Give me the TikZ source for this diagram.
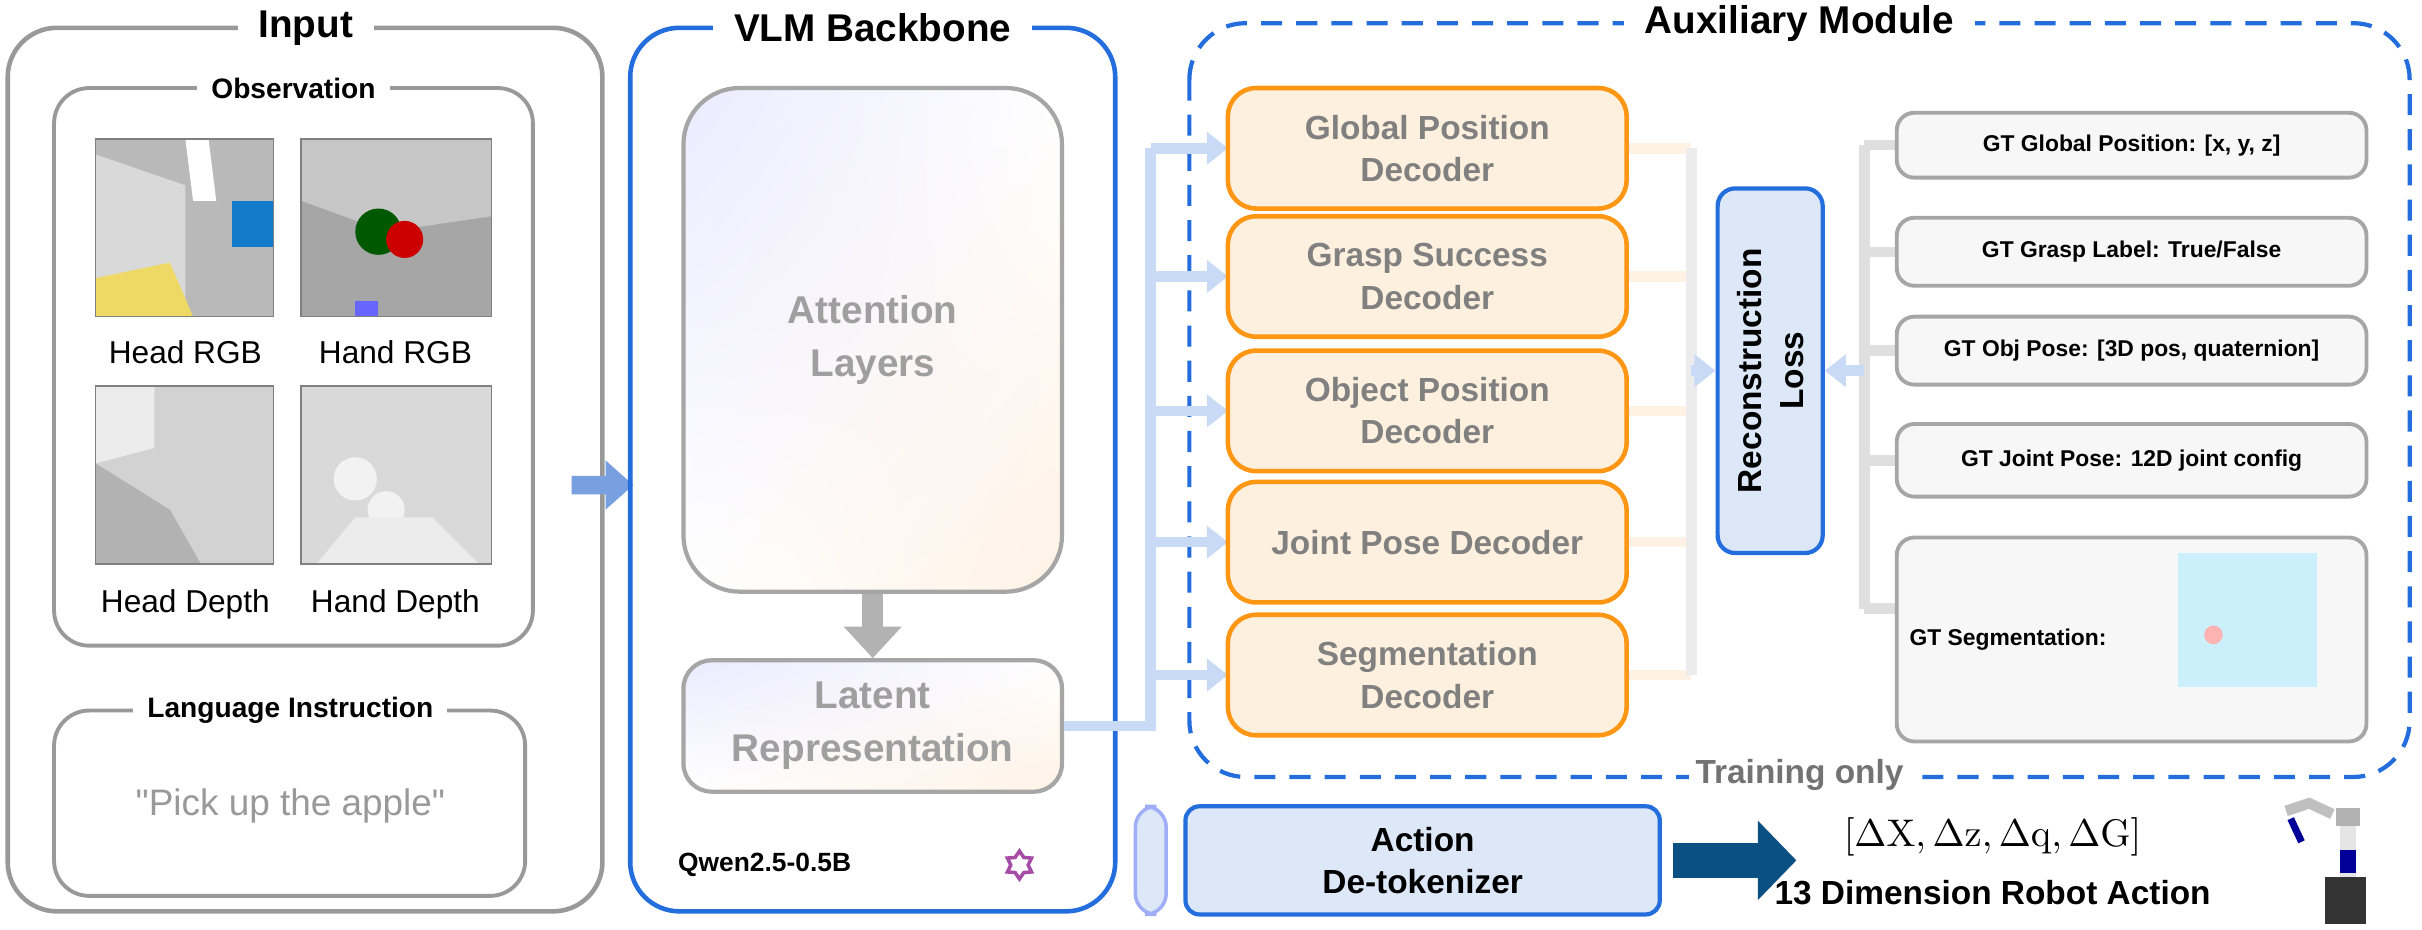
\documentclass[tikz,border=0pt]{standalone}
\usepackage[no-math]{fontspec}
\setmainfont{Liberation Sans}
\usetikzlibrary{arrows.meta,shapes.geometric,calc,shadings}
\def\U{0.4395pt}
\definecolor{bblue}{RGB}{35,110,220}
\definecolor{lblue}{RGB}{220,232,248}
\definecolor{cblue}{RGB}{200,218,245}
\definecolor{aarrow}{RGB}{120,160,225}
\definecolor{orng}{RGB}{255,150,20}
\definecolor{lorng}{RGB}{254,240,222}
\definecolor{tgray}{RGB}{128,128,128}
\definecolor{dblue}{RGB}{10,80,130}
\tikzset{
  panel/.style={draw=gray!80, line width=1.3pt, rounded corners=14pt},
  ttl/.style={fill=white, inner xsep=6pt, font=\bfseries\fontsize{11}{12}\selectfont},
  sttl/.style={fill=white, inner xsep=4pt, font=\bfseries\fontsize{8}{9}\selectfont},
  dec/.style={draw=orng, fill=lorng, line width=1.3pt, rounded corners=8pt, minimum width=258*\U, minimum height=78*\U, align=center, text=tgray, font=\bfseries\fontsize{9.5}{12}\selectfont},
  gt/.style={draw=gray!70, fill=gray!6, line width=1.1pt, rounded corners=5pt, minimum width=304*\U, align=center, font=\bfseries\fontsize{6.5}{8}\selectfont},
  img/.style={draw=gray, inner sep=0, minimum height=115*\U},
  conL/.style={line width=3pt, draw=cblue},
  conR/.style={line width=3pt, draw=orange!10},
  conG/.style={line width=3pt, draw=gray!25},
  fat/.style={-{Triangle[width=9pt,length=6pt]}},
  lbl/.style={font=\fontsize{9}{10}\selectfont},
  grad/.style={draw=gray!70, line width=1.2pt, upper left=blue!8, lower right=orange!10, upper right=white, lower left=white, minimum width=245*\U, text=gray!75, font=\bfseries\fontsize{11}{15}\selectfont, align=center},
}
\begin{document}
\begin{tikzpicture}[x=0.015446cm,y=-0.015446cm]
\useasboundingbox (0,0) rectangle (1568,601.5);
% Input
\draw[panel] (5,18) rectangle (390,590);
\node[ttl] (tin) at (198,18) {Input};
\draw[panel, line width=1.1pt, rounded corners=10pt] (35,57) rectangle (345,418);
\node[sttl] (tobs) at (190,57) {Observation};
% images
\fill[gray!55] (62,90) rectangle (177,205);
\fill[gray!30] (62,100) -- (120,120) -- (120,205) -- (62,205) -- cycle;
\fill[yellow!60!brown!70] (62,180) -- (110,170) -- (125,205) -- (62,205) -- cycle;
\fill[cyan!60!blue] (150,130) rectangle (177,160);
\fill[white] (120,90) -- (135,90) -- (140,130) -- (125,130) -- cycle;
\node[img, minimum width=115*\U] (i1) at (119.5,147.5) {};
\fill[gray!70] (195,90) rectangle (318,205);
\fill[gray!45] (195,90) -- (318,90) -- (318,140) -- (250,150) -- (195,130) -- cycle;
\fill[green!35!black] (245,150) circle (15);
\fill[red!80!black] (262,155) circle (12);
\fill[blue!60] (230,195) rectangle (245,205);
\node[img, minimum width=123*\U] (i2) at (256.5,147.5) {};
\fill[gray!35] (62,250) rectangle (177,365);
\fill[gray!60] (62,300) -- (110,330) -- (130,365) -- (62,365) -- cycle;
\fill[gray!15] (62,250) -- (100,250) -- (100,290) -- (62,300) -- cycle;
\node[img, minimum width=115*\U] (i3) at (119.5,307.5) {};
\fill[gray!30] (195,250) rectangle (318,365);
\fill[gray!10] (230,310) circle (14) (250,330) circle (12);
\fill[gray!15] (205,365) -- (230,335) -- (280,335) -- (310,365) -- cycle;
\node[img, minimum width=123*\U] (i4) at (256.5,307.5) {};
\node[lbl] (l1) at (120,228) {Head RGB};
\node[lbl] (l2) at (256,228) {Hand RGB};
\node[lbl] (l3) at (120,391) {Head Depth};
\node[lbl] (l4) at (256,391) {Hand Depth};
\draw[panel, line width=1.1pt, rounded corners=10pt] (35,460) rectangle (340,580);
\node[sttl] (tli) at (188,460) {Language Instruction};
\node[text=gray!80, font=\fontsize{10.5}{12}\selectfont] (pick) at (188,522) {\textquotedbl Pick up the apple\textquotedbl};
% big arrow
\fill[aarrow] (370,308) -- (392,308) -- (392,298) -- (410,314) -- (392,330) -- (392,320) -- (370,320) -- cycle;
% VLM
\draw[draw=bblue, line width=1.3pt, rounded corners=14pt] (408,18) rectangle (722,590);
\node[ttl] (tvlm) at (565,18) {VLM Backbone};
\node[grad, rounded corners=16pt, minimum height=326*\U] (att) at (565,220) {Attention\\Layers};
\node[grad, rounded corners=8pt, minimum height=85*\U] (lat) at (565,470) {Latent\\Representation};
\draw[gray!60, line width=6pt, -{Triangle[width=16pt,length=9pt]}] (att.south) -- (lat.north);
\node[font=\bfseries\fontsize{7.5}{9}\selectfont] (qw) at (495,560) {Qwen2.5-0.5B};
\node[draw=violet!70, line width=1pt, star, star points=6, star point ratio=1.6, minimum size=18*\U, inner sep=0] (logo) at (660,560) {};
% Auxiliary
\draw[bblue, line width=1.2pt, dash pattern=on 6pt off 4pt, rounded corners=16pt] (770,15) rectangle (1560,503);
\node[ttl] (taux) at (1165,15) {Auxiliary Module};
\node[fill=white, text=gray!90!black, inner xsep=2pt, font=\bfseries\fontsize{9.5}{11}\selectfont] (tr) at (1165,502) {Training only};
% connectors
\coordinate (cb) at (745,470);
\coordinate (ct) at (745,96);
\draw[conL] (lat.east) -- (cb) -- (ct);
\foreach \y in {96,179,266,351,437}{
  \draw[conL, fat] (745,\y) -- (795,\y);
}
\foreach \y in {96,179,266,351,437}{
  \draw[conR] (1053,\y) -- (1095,\y);
}
\draw[line width=3pt, draw=gray!15] (1095,96) -- (1095,437);
\node[dec] (d1) at (924,96) {Global Position\\Decoder};
\node[dec] (d2) at (924,179) {Grasp Success\\Decoder};
\node[dec] (d3) at (924,266) {Object Position\\Decoder};
\node[dec] (d4) at (924,351) {Joint Pose Decoder};
\node[dec] (d5) at (924,437) {Segmentation\\Decoder};
\node[draw=bblue, fill=lblue, line width=1.2pt, rounded corners=5pt, minimum width=68*\U, minimum height=236*\U, inner sep=0] (rec) at (1146,240) {};
\node[rotate=90, align=center, font=\bfseries\fontsize{9.5}{12}\selectfont] (rect) at (rec.center) {Reconstruction\\Loss};
\draw[line width=3pt, draw=cblue, fat] (1095,0 |- rec.west) -- (rec.west);
\draw[line width=3pt, draw=gray!25] (1207,94) -- (1207,394);
\foreach \y in {94,163,227,298,394}{
  \draw[conG] (1207,\y) -- (1230,\y);
}
\draw[line width=3pt, draw=cblue, fat] (1207,0 |- rec.east) -- (rec.east);
\node[gt, minimum height=42*\U] (g1) at (1380,94) {GT Global Position: [x, y, z]};
\node[gt, minimum height=44*\U] (g2) at (1380,163) {GT Grasp Label: True/False};
\node[gt, minimum height=44*\U] (g3) at (1380,227) {GT Obj Pose: [3D pos, quaternion]};
\node[gt, minimum height=47*\U] (g4) at (1380,298) {GT Joint Pose: 12D joint config};
\node[gt, minimum height=132*\U] (g5) at (1380,414) {};
\node[font=\bfseries\fontsize{6.5}{8}\selectfont] (g5t) at (1300,414) {GT Segmentation:};
\fill[cyan!20] (1410,358) rectangle (1500,445);
\fill[red!30] (1433,411) circle (6);
% bottom
\node[draw=cblue!80!blue, fill=lblue, line width=1pt, rounded corners=6pt, minimum width=20*\U, minimum height=70*\U] (pill) at (745,557) {};
\node[draw=bblue, fill=lblue, line width=1.2pt, rounded corners=4pt, minimum width=307*\U, minimum height=70*\U, align=center, font=\bfseries\fontsize{9.5}{12}\selectfont] (act) at (921,557) {Action\\De-tokenizer};
\node (out) at (1290,542) {\fontsize{11}{13}\selectfont $[\Delta\mathrm{X},\Delta\mathrm{z},\Delta\mathrm{q},\Delta\mathrm{G}]$};
\node[font=\bfseries\fontsize{9.5}{11}\selectfont] (dim) at (1290,578) {13 Dimension Robot Action};
\coordinate (ae) at (1163,557);
\draw[dblue, line width=10pt, -{Triangle[width=22pt,length=11pt]}] (act.east) ++(7,0) -- (ae);
% robot
\fill[gray!20] (1515,525) rectangle (1525,570);
\fill[blue!60!black] (1515,550) rectangle (1525,565);
\fill[black!80] (1505,568) rectangle (1532,598);
\fill[gray!60] (1512,523) rectangle (1528,535);
\draw[gray!50, line width=3pt] (1480,525) -- (1495,520) -- (1510,527);
\draw[blue!60!black, line width=2pt] (1483,530) -- (1490,545);
\end{tikzpicture}
\end{document}
